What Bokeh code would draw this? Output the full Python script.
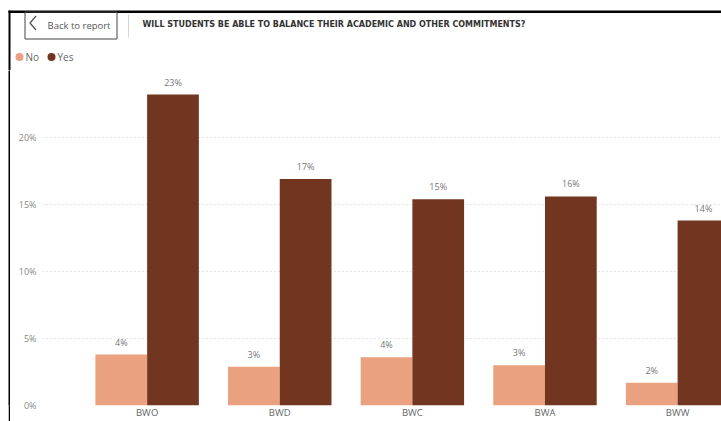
from bokeh.plotting import figure
from bokeh.layouts import column, row, Spacer
from bokeh.models import Range1d, ColumnDataSource, FixedTicker, PrintfTickFormatter
from bokeh.transform import dodge
from bokeh.core.properties import value
from bokeh.embed import file_html
from bokeh.resources import INLINE

# ---- data ----
categories = ["BWO", "BWD", "BWC", "BWA", "BWW"]
no_values = [3.8, 2.9, 3.6, 3.0, 1.7]
yes_values = [23.2, 16.9, 15.4, 15.6, 13.8]
y_ticks = [0, 5, 10, 15, 20]
series_names = ["No", "Yes"]
title_text = "WILL STUDENTS BE ABLE TO BALANCE THEIR ACADEMIC AND OTHER COMMITMENTS?"
button_text = "Back to report"

NO_COLOR = "#E9A180"
YES_COLOR = "#72351F"
FONT = "Open Sans"

# ---------------- header figure (pixel coordinates) ----------------
H_HEAD = 70
h = figure(width=721, height=H_HEAD, output_backend="svg", toolbar_location=None,
           x_range=Range1d(0, 721), y_range=Range1d(H_HEAD, 0),
           x_axis_location=None, y_axis_location=None,
           min_border=0, min_border_left=0, min_border_right=0,
           min_border_top=0, min_border_bottom=0)
h.outline_line_color = None
h.grid.visible = False

# frame borders
h.quad(left=[8], right=[721], top=[10], bottom=[12.5], fill_color="black", line_color=None)
h.quad(left=[8], right=[10], top=[10], bottom=[H_HEAD + 5], fill_color="black", line_color=None)
# back button
h.quad(left=[24.5], right=[116.5], top=[11.5], bottom=[38.5], fill_alpha=0,
       line_color="#444444", line_width=1)
h.line(x=[35.5, 29.5, 35.5], y=[15.5, 22.5, 29.5], line_color="#555555", line_width=1.3)
h.text(x=[47], y=[24.5], text=[button_text], text_font=value(FONT), text_font_size="9.5px",
       text_color="#555555", text_baseline="middle", text_align="left")
h.segment(x0=[128], y0=[14], x1=[128], y1=[37], line_color="#D5D5D5", line_width=1)
h.text(x=[142], y=[24], text=[title_text], text_font=value("DejaVu Sans"),
       text_font_style="bold", text_font_size="8px", text_color="#333333",
       text_baseline="middle", text_align="left")
# legend
h.scatter(x=[19, 51], y=[56.5, 56.5], marker="circle", size=8,
          fill_color=[NO_COLOR, YES_COLOR], line_color=None)
h.text(x=[25, 57], y=[56.5, 56.5], text=series_names, text_font=value(FONT),
       text_font_size="10px", text_color="#666666", text_baseline="middle", text_align="left")

# ---------------- left border strip ----------------
H_CHART = 421 - H_HEAD
s = figure(width=2, height=H_CHART, output_backend="svg", toolbar_location=None,
           x_range=Range1d(0, 1), y_range=Range1d(0, 1),
           x_axis_location=None, y_axis_location=None,
           min_border=0, min_border_left=0, min_border_right=0,
           min_border_top=0, min_border_bottom=0)
s.outline_line_color = None
s.grid.visible = False
s.background_fill_color = "black"
s.border_fill_color = "black"

# ---------------- chart figure ----------------
src = ColumnDataSource(dict(
    x=list(range(len(categories))),
    no=no_values,
    yes=yes_values,
    no_lbl=[f"{round(v)}%" for v in no_values],
    yes_lbl=[f"{round(v)}%" for v in yes_values],
))

p = figure(width=711, height=H_CHART, output_backend="svg", toolbar_location=None,
           x_range=Range1d(-0.789, 4.331), y_range=Range1d(0, 25),
           min_border_left=32, min_border_top=0, min_border_right=0, min_border_bottom=11)
p.outline_line_color = None

w = 0.39
p.vbar(x=dodge("x", -w / 2, range=p.x_range), top="no", width=w, source=src,
       fill_color=NO_COLOR, line_color=None)
p.vbar(x=dodge("x", w / 2, range=p.x_range), top="yes", width=w, source=src,
       fill_color=YES_COLOR, line_color=None)

for col, lbl, off in (("no", "no_lbl", -w / 2), ("yes", "yes_lbl", w / 2)):
    p.text(x=dodge("x", off, range=p.x_range), y=col, text=lbl, source=src,
           text_align="center", text_baseline="bottom", y_offset=-6,
           text_font=value(FONT), text_font_size="9px", text_color="#777777")

p.xaxis.ticker = FixedTicker(ticks=list(range(len(categories))))
p.xaxis.major_label_overrides = {i: c for i, c in enumerate(categories)}
p.xaxis.axis_line_color = None
p.xaxis.major_tick_line_color = None
p.xaxis.minor_tick_line_color = None
p.xaxis.major_tick_out = 0
p.xaxis.major_label_standoff = 0
p.xaxis.major_label_text_font = FONT
p.xaxis.major_label_text_font_size = "9.5px"
p.xaxis.major_label_text_color = "#666666"

p.yaxis.ticker = FixedTicker(ticks=y_ticks)
p.yaxis.formatter = PrintfTickFormatter(format="%d%%")
p.yaxis.axis_line_color = None
p.yaxis.major_tick_line_color = None
p.yaxis.minor_tick_line_color = None
p.yaxis.major_tick_out = 0
p.yaxis.major_label_standoff = 6
p.yaxis.major_label_text_font = FONT
p.yaxis.major_label_text_font_size = "9px"
p.yaxis.major_label_text_color = "#888888"

p.xgrid.grid_line_color = None
p.ygrid.grid_line_color = "#C8C8C8"
p.ygrid.grid_line_dash = "1 3"
p.ygrid.grid_line_width = 1

layout = column(h, row(Spacer(width=8, height=H_CHART), s, p, spacing=0), spacing=0)
open("out.html", "w").write(file_html(layout, INLINE))
